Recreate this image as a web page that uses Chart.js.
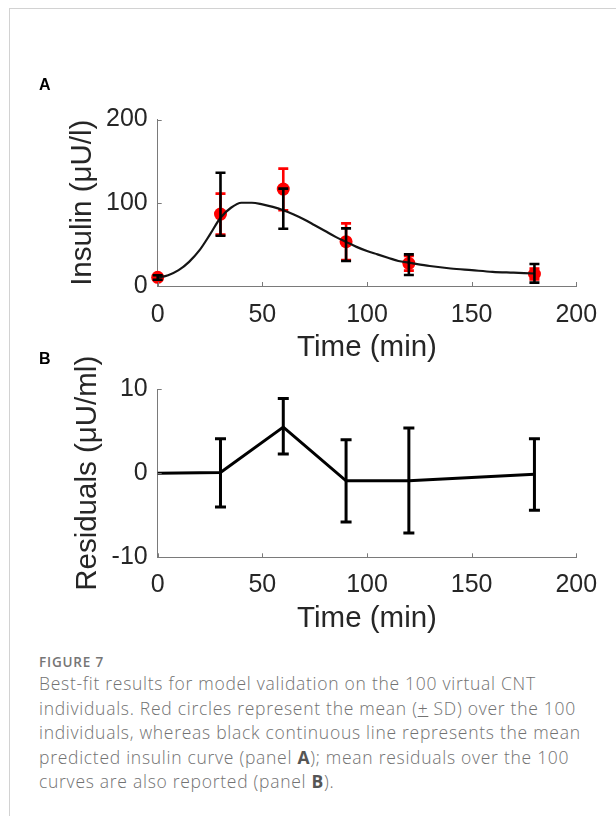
<!DOCTYPE html>
<html>
<head>
<meta charset="utf-8">
<script src="https://cdn.jsdelivr.net/npm/chart.js@4/dist/chart.umd.min.js"></script>
<style>
  html, body { margin: 0; padding: 0; background: #fff; }
  body { width: 616px; height: 816px; position: relative; overflow: hidden; }
  .frame-top { position: absolute; left: 9px; top: 8px; width: 607px; height: 1px; background: #d2d2d2; }
  .frame-left { position: absolute; left: 9px; top: 8px; width: 1px; height: 808px; background: #d2d2d2; }
  .cv { position: absolute; left: 0; }
  #cA { top: 60px; }
  #cB { top: 335px; }
  .plab { position: absolute; font-family: "Liberation Sans", Arial, sans-serif; font-weight: bold; font-size: 16px; color: #000; z-index: 5; line-height: 1; }
  .cap { position: absolute; left: 39px; font-family: "Open Sans", Lato, sans-serif; color: #727272; }
  .caphead { top: 653px; font-size: 13.5px; font-weight: 600; color: #767676; letter-spacing: 0.8px; }
  .capbody { top: 671px; font-size: 17.5px; line-height: 24.5px; white-space: nowrap; font-weight: 300; letter-spacing: 0.72px; }
  .capbody b { color: #555; font-weight: 700; }
</style>
</head>
<body>
<div class="frame-top"></div>
<div class="frame-left"></div>
<div class="plab" style="left:39px; top:77px;">A</div>
<div class="plab" style="left:39px; top:351px;">B</div>
<canvas id="cA" class="cv" width="616" height="310" style="width:616px;height:310px;"></canvas>
<canvas id="cB" class="cv" width="616" height="305" style="width:616px;height:305px;"></canvas>
<div class="cap caphead">FIGURE 7</div>
<div class="cap capbody">Best-fit results for model validation on the 100 virtual CNT<br>individuals. Red circles represent the mean (<u>+</u> SD) over the 100<br>individuals, whereas black continuous line represents the mean<br>predicted insulin curve (panel <b>A</b>); mean residuals over the 100<br>curves are also reported (panel <b>B</b>).</div>
<script>
// ---------- Data ----------
const sampleTimes = [0, 30, 60, 90, 120, 180];
const insulinMean = [10.4, 86.4, 116.4, 53.2, 27.2, 14.4];
const insulinLow  = [8.4, 61.8, 91.0, 31.2, 18.5, 8.0];
const insulinHigh = [12.4, 111.0, 141.0, 75.2, 36.0, 21.0];
const predLow  = [7.5, 60.4, 68.8, 30.0, 13.2, 4.0];
const predHigh = [13.0, 136.0, 117.0, 69.2, 38.0, 26.4];

const curveTimes = [0,5,10,15,20,25,30,35,40,45,50,55,60,65,70,75,80,85,90,95,100,105,110,115,120,130,140,150,160,170,180];
const curveInsulin = [10,13,19,29,43,62,82,94,100,100,98,95,91,86,80,73,66,59,53,47,42,38,34,30,28,24,21,19,17,16,15];

const residTimes = [0, 30, 60, 90, 120, 180];
const residMean = [0, 0.1, 5.5, -0.9, -0.9, -0.1];
const residLow  = [null, -4.0, 2.3, -5.8, -7.1, -4.4];
const residHigh = [null, 4.1, 8.9, 4.0, 5.4, 4.1];

const xTicks = [0, 50, 100, 150, 200];
const yTicksA = [0, 100, 200];
const yTicksB = [-10, 0, 10];

const pts = (xs, ys) => xs.map((x, i) => ({x: x, y: ys[i]}));

// ---------- Plugins ----------
function drawBars(chart, ds) {
  const {ctx, scales: {x, y}} = chart;
  const e = ds.errBars;
  ctx.save();
  ctx.strokeStyle = e.color;
  ctx.lineWidth = e.width;
  ctx.lineCap = 'butt';
  e.times.forEach((t, i) => {
    if (e.low[i] == null || e.high[i] == null) return;
    const px = x.getPixelForValue(t);
    const pl = y.getPixelForValue(e.low[i]);
    const ph = y.getPixelForValue(e.high[i]);
    ctx.beginPath();
    ctx.moveTo(px, pl); ctx.lineTo(px, ph);
    ctx.moveTo(px - e.cap, pl); ctx.lineTo(px + e.cap, pl);
    ctx.moveTo(px - e.cap, ph); ctx.lineTo(px + e.cap, ph);
    ctx.stroke();
  });
  ctx.restore();
}
const errorBarPlugin = {
  id: 'errorBars',
  beforeDatasetDraw(chart, args) {
    const ds = chart.data.datasets[args.index];
    if (ds.errBars && ds.errBars.when === 'before') drawBars(chart, ds);
  },
  afterDatasetDraw(chart, args) {
    const ds = chart.data.datasets[args.index];
    if (ds.errBars && ds.errBars.when === 'after') drawBars(chart, ds);
  }
};
const inwardTicksPlugin = {
  id: 'inwardTicks',
  afterDraw(chart) {
    const {ctx, chartArea, scales: {x, y}} = chart;
    ctx.save();
    ctx.strokeStyle = '#7a7a7a';
    ctx.lineWidth = 1;
    ctx.beginPath();
    x.ticks.forEach(t => {
      const px = Math.round(x.getPixelForValue(t.value)) + 0.5;
      ctx.moveTo(px, chartArea.bottom); ctx.lineTo(px, chartArea.bottom - 4);
    });
    y.ticks.forEach(t => {
      const py = Math.round(y.getPixelForValue(t.value)) + 0.5;
      ctx.moveTo(chartArea.left, py); ctx.lineTo(chartArea.left + 4, py);
    });
    ctx.stroke();
    ctx.restore();
  }
};

const tickFont = {family: '"Liberation Sans", Arial, sans-serif', size: 25, lineHeight: 1};
const titleFont = {family: '"Liberation Sans", Arial, sans-serif', size: 29.5, lineHeight: 1};
const txtColor = '#262626';

function makeOptions(cfg) {
  return {
    responsive: false,
    animation: false,
    events: [],
    layout: {padding: {top: cfg.padTop, right: 39.7, left: 0, bottom: 0}},
    plugins: {legend: {display: false}, tooltip: {enabled: false}},
    scales: {
      x: {
        type: 'linear', min: 0, max: 200,
        afterBuildTicks: s => { s.ticks = xTicks.map(v => ({value: v})); },
        afterFit: s => { s.height = cfg.xHeight; },
        grid: {display: false, drawTicks: false},
        border: {display: true, color: '#7a7a7a', width: 1},
        ticks: {font: tickFont, color: txtColor, padding: cfg.xTickPad, maxRotation: 0, autoSkip: false},
        title: {display: true, text: 'Time (min)', font: titleFont, color: txtColor, padding: {top: 0, bottom: cfg.xTitlePad}}
      },
      y: {
        type: 'linear', min: cfg.yMin, max: cfg.yMax,
        afterBuildTicks: s => { s.ticks = cfg.yTicks.map(v => ({value: v})); },
        afterFit: s => { s.width = 157.7; },
        grid: {display: false, drawTicks: false},
        border: {display: true, color: '#7a7a7a', width: 1},
        ticks: {font: tickFont, color: txtColor, padding: 10, autoSkip: false},
        title: {display: true, text: cfg.yTitle, font: titleFont, color: txtColor, padding: {top: cfg.yTitlePad, bottom: 0}}
      }
    }
  };
}

// ---------- Panel A ----------
new Chart(document.getElementById('cA'), {
  type: 'scatter',
  data: {
    datasets: [
      {
        label: 'Predicted',
        data: pts(curveTimes, curveInsulin),
        showLine: true, pointRadius: 0, borderColor: '#151515', borderWidth: 2.2,
        cubicInterpolationMode: 'monotone', clip: false, order: 1,
        errBars: {when: 'after', times: sampleTimes, low: predLow, high: predHigh, color: '#000', width: 2.6, cap: 5}
      },
      {
        label: 'Mean',
        data: pts(sampleTimes, insulinMean),
        showLine: false, pointRadius: 6.5, pointBackgroundColor: '#ff0000', pointBorderWidth: 0,
        borderColor: '#ff0000', clip: false, order: 2,
        errBars: {when: 'before', times: sampleTimes, low: insulinLow, high: insulinHigh, color: '#ff0000', width: 2.6, cap: 5}
      }
    ]
  },
  options: makeOptions({padTop: 59.5, xHeight: 84, xTickPad: 16.5, xTitlePad: 7.5, yMin: 0, yMax: 200, yTicks: yTicksA, yTitle: 'Insulin (μU/l)', yTitlePad: 68}),
  plugins: [errorBarPlugin, inwardTicksPlugin]
});

// ---------- Panel B ----------
new Chart(document.getElementById('cB'), {
  type: 'scatter',
  data: {
    datasets: [
      {
        label: 'Residuals',
        data: pts(residTimes, residMean),
        showLine: true, pointRadius: 0, borderColor: '#000', borderWidth: 3,
        tension: 0, clip: false,
        errBars: {when: 'after', times: residTimes, low: residLow, high: residHigh, color: '#000', width: 3, cap: 5.5}
      }
    ]
  },
  options: makeOptions({padTop: 54.3, xHeight: 82.7, xTickPad: 15, xTitlePad: 6.5, yMin: -10, yMax: 10, yTicks: yTicksB, yTitle: 'Residuals (μU/ml)', yTitlePad: 73}),
  plugins: [errorBarPlugin, inwardTicksPlugin]
});
</script>
</body>
</html>
